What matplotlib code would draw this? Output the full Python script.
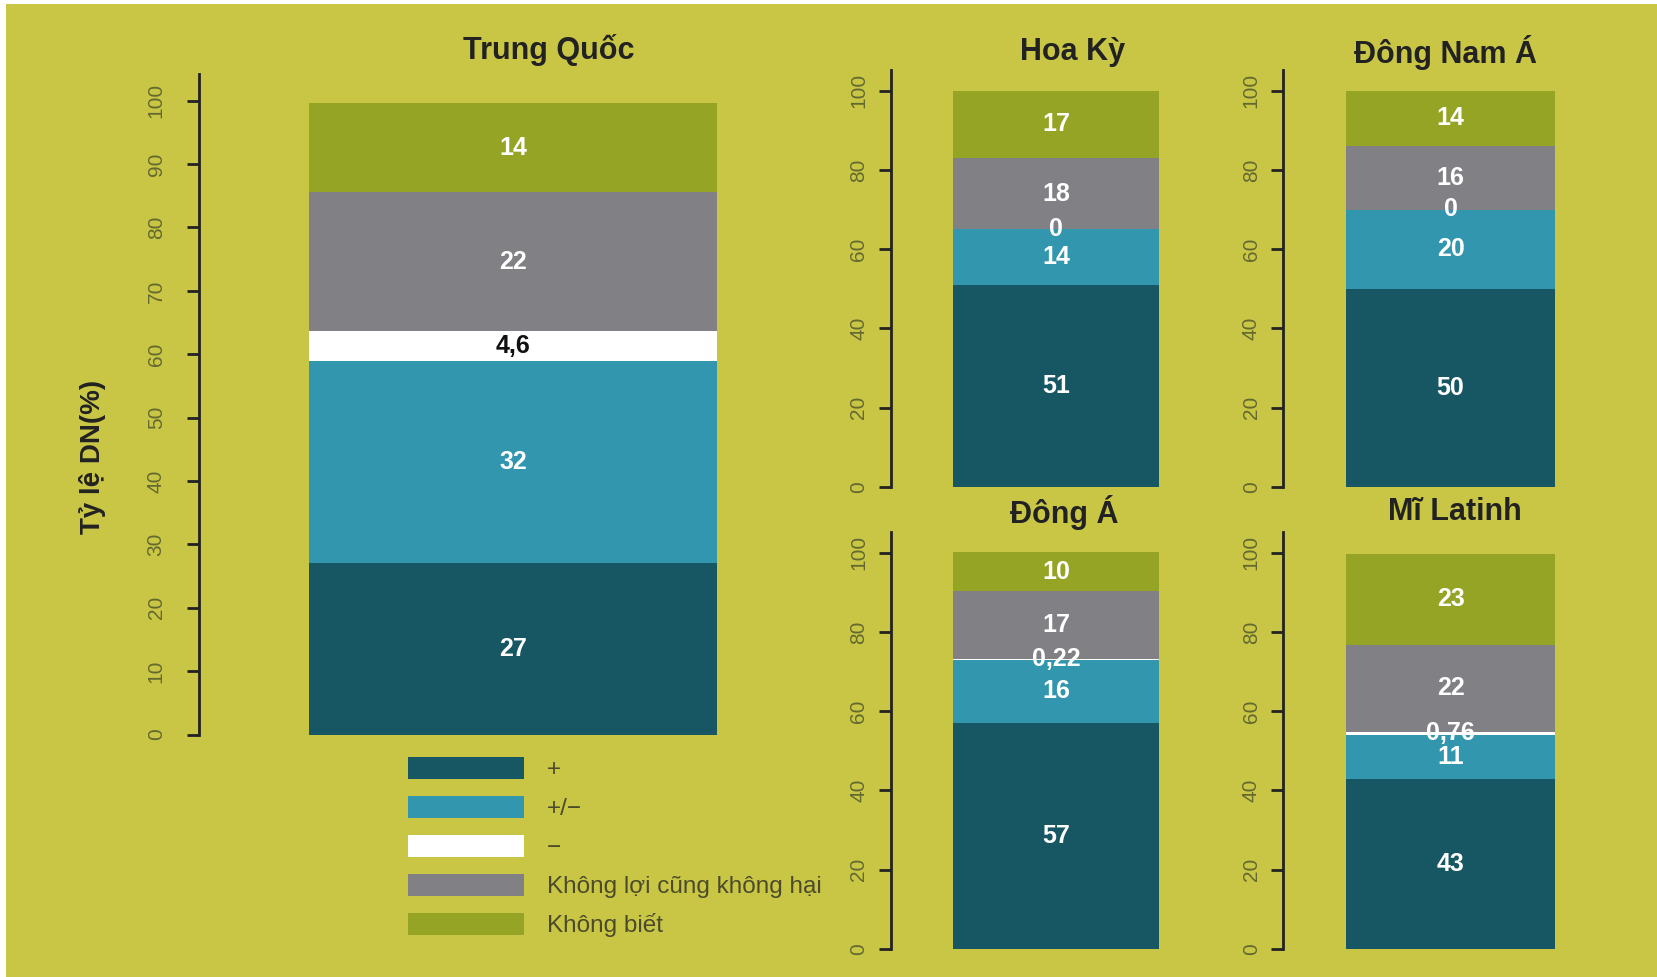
import matplotlib
matplotlib.use("Agg")
import matplotlib.pyplot as plt
from matplotlib.patches import Patch, Rectangle

plt.rcParams['font.family'] = ['Liberation Sans', 'DejaVu Sans']

# data (percent of firms)
categories = ["+", "+/\u2212", "\u2212", "Không lợi cũng không hại", "Không biết"]
colors = ["#175764", "#3297AE", "#FFFFFF", "#808085", "#95A425"]

regions = ["Trung Quốc", "Hoa Kỳ", "Đông Nam Á", "Đông Á", "Mĩ Latinh"]
trung_quoc = [27, 32, 4.6, 22, 14]
hoa_ky = [51, 14, 0, 18, 17]
dong_nam_a = [50, 20, 0, 16, 14]
dong_a = [57, 16, 0.22, 17, 10]
mi_latinh = [43, 11, 0.76, 22, 23]
values = [trung_quoc, hoa_ky, dong_nam_a, dong_a, mi_latinh]

main_ticks = list(range(0, 101, 10))
small_ticks = list(range(0, 101, 20))

BG = "#C9C646"
TICK_COL = "#64692F"
W, H = 1657, 977

fig = plt.figure(figsize=(W / 100, H / 100), dpi=100)
fig.patch.set_facecolor("white")
fig.patches.append(Rectangle((6 / W, 0), 1, 1 - 4 / H, transform=fig.transFigure,
                             facecolor=BG, edgecolor="none", zorder=-10))


def make_panel(spine_px, bar_l, bar_r, y0_px, y100_px, ytop, ticks, pad, title, tx, ty, vals):
    # axes from spine to a bit past the bar, in pixel units
    right_px = bar_r + 40
    ppu = (y0_px - y100_px) / 100.0
    top_px = y0_px - ytop * ppu
    ax = fig.add_axes([spine_px / W, 1 - y0_px / H, (right_px - spine_px) / W,
                       (y0_px - top_px) / H])
    ax.set_facecolor("none")
    bw = bar_r - bar_l
    xc = (bar_l + bar_r) / 2
    ax.set_xlim((spine_px - xc) / bw, (right_px - xc) / bw)
    ax.set_ylim(0, ytop)
    bottom = 0
    for v, c in zip(vals, colors):
        ax.bar(0, v, width=1, bottom=bottom, color=c, edgecolor="none")
        tcol = "#111111" if c == "#FFFFFF" and v > 2 else "white"
        ax.text(0, bottom + v / 2, ("%g" % v).replace(".", ","), ha="center", va="center",
                color=tcol, fontsize=18, fontweight="bold")
        bottom += v
    for s in ["top", "right", "bottom"]:
        ax.spines[s].set_visible(False)
    ax.spines["left"].set_color("#222222")
    ax.spines["left"].set_linewidth(2)
    ax.set_xticks([])
    ax.set_yticks(ticks)
    ax.tick_params(axis="y", length=9, width=2, color="#222222", labelsize=15,
                   labelcolor=TICK_COL, labelrotation=90, pad=pad)
    for lab in ax.get_yticklabels():
        lab.set_va("center")
    fig.text(tx / W, 1 - ty / H, title, ha="center", va="center", fontsize=22,
             fontweight="bold", color="#222222")
    return ax


make_panel(199, 309, 717, 734.5, 100.7, 104.2, main_ticks, 15, regions[0], 549, 50, values[0])
make_panel(890.5, 953, 1159, 486.7, 90.7, 105.2, small_ticks, 7, regions[1], 1073, 52, values[1])
make_panel(1283, 1346, 1555, 486.7, 90.7, 105.2, small_ticks, 7, regions[2], 1445, 52, values[2])
make_panel(890.5, 953, 1159, 949, 552.7, 105.2, small_ticks, 7, regions[3], 1064, 512, values[3])
make_panel(1283, 1346, 1555, 949, 552.7, 105.2, small_ticks, 7, regions[4], 1455, 512, values[4])

fig.text(93 / W, 1 - 457 / H, "Tỷ lệ DN(%)", rotation=90, ha="center", va="center",
         fontsize=20, fontweight="bold", color="#222222")

handles = [Patch(facecolor=c, edgecolor="none", label=l) for c, l in zip(colors, categories)]
fs = 17.5
fpx = fs * 100 / 72
fig.legend(handles=handles, loc="upper left", bbox_to_anchor=(408 / W, 1 - 757 / H),
           frameon=False, fontsize=fs, handlelength=116 / fpx, handleheight=25 / fpx,
           handletextpad=23 / fpx, labelspacing=0.6, borderpad=0, borderaxespad=0,
           labelcolor="#4B4B2B")

fig.savefig("out.png", dpi=100, facecolor=fig.get_facecolor())
